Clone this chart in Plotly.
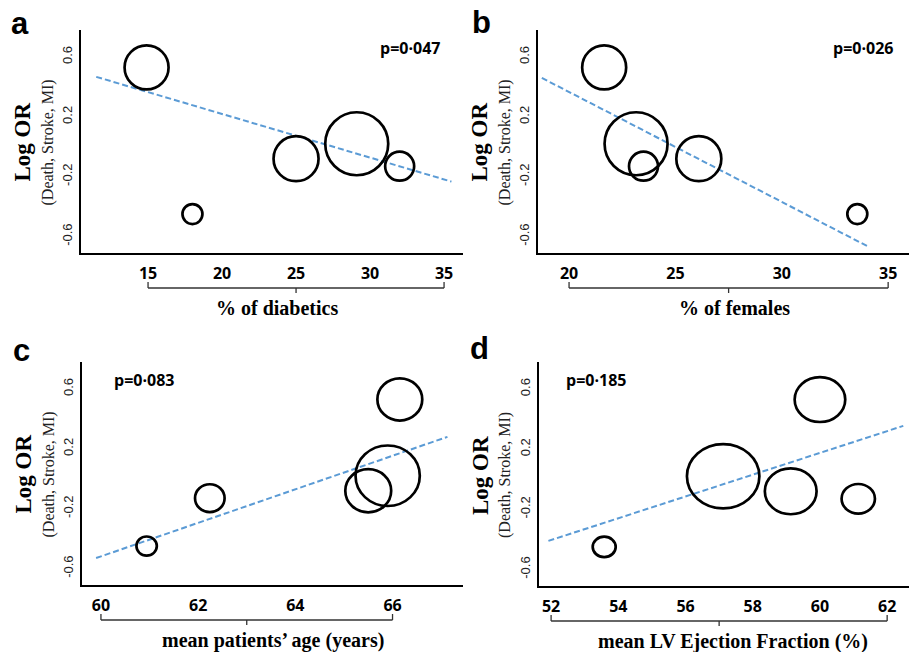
import plotly.graph_objects as go

# ---------------- data ----------------
study_log_or = [0.53, -0.45, -0.08, 0.02, -0.13]      # Log OR per study
study_weight = [44, 20, 45, 63, 29]                    # relative bubble size per study

pct_diabetics = [14.9, 18.0, 25.0, 29.1, 32.0]
pct_females = [21.65, 33.55, 26.1, 23.15, 23.5]
mean_age = [66.15, 60.94, 65.5, 65.9, 62.24]
mean_lvef = [60.0, 53.58, 59.13, 57.12, 61.14]

trend_a_x = [11.5, 35.5]
trend_a_y = [0.467, -0.233]
trend_b_x = [18.72, 34.06]
trend_b_y = [0.46, -0.667]
trend_c_x = [59.9, 67.13]
trend_c_y = [-0.53, 0.28]
trend_d_x = [51.92, 62.48]
trend_d_y = [-0.41, 0.355]

p_values = ["p=0·047", "p=0·026", "p=0·083", "p=0·185"]
panel_letters = ["a", "b", "c", "d"]
x_titles = ["% of diabetics", "% of females", "mean patients’ age (years)",
            "mean LV Ejection Fraction (%)"]
x_ticks_a = [15, 20, 25, 30, 35]
x_ticks_b = [20, 25, 30, 35]
x_ticks_c = [60, 62, 64, 66]
x_ticks_d = [52, 54, 56, 58, 60, 62]
y_ticks = [-0.6, -0.2, 0.2, 0.6]
y_tick_text = ["-0.6", "-0.2", "0.2", "0.6"]

# ---------------- layout helpers ----------------
W, H = 909, 652


def fx(px):
    return px / W


def fy(py):
    return 1 - py / H


panels = [
    dict(x=pct_diabetics, tx=trend_a_x, ty=trend_a_y, ticks=x_ticks_a,
         xr=[10.47, 36.28], dom_x=(81, 463), dom_y=(30, 253),
         letter_pos=(20, 23), p_pos=(410, 48), title_x=277, sx=1.0, sy=1.0),
    dict(x=pct_females, tx=trend_b_x, ty=trend_b_y, ticks=x_ticks_b,
         xr=[18.54, 35.98], dom_x=(538, 909), dom_y=(30, 253),
         letter_pos=(481, 22), p_pos=(863, 48), title_x=734, sx=1.0, sy=1.0),
    dict(x=mean_age, tx=trend_c_x, ty=trend_c_y, ticks=x_ticks_c,
         xr=[59.61, 67.45], dom_x=(82, 463), dom_y=(362, 585),
         letter_pos=(21, 350), p_pos=(144, 380), title_x=273, sx=1.02, sy=0.96),
    dict(x=mean_lvef, tx=trend_d_x, ty=trend_d_y, ticks=x_ticks_d,
         xr=[51.64, 62.65], dom_x=(539, 909), dom_y=(362, 586),
         letter_pos=(480, 348), p_pos=(596, 380), title_x=733, sx=1.15, sy=1.02),
]

fig = go.Figure()
shapes = []
annotations = []
BLUE = "#5b9bd5"
SERIF = "Liberation Serif, Times New Roman, serif"
SANS_B = "Open Sans, Arial, sans-serif"

for i, p in enumerate(panels):
    n = "" if i == 0 else str(i + 1)
    xa, ya = "x" + n, "y" + n
    dom_h = p["dom_y"][1] - p["dom_y"][0]

    fig.add_trace(go.Scatter(
        x=p["tx"], y=p["ty"], mode="lines", xaxis=xa, yaxis=ya,
        line=dict(color=BLUE, width=2, dash="6px,3px"),
        showlegend=False, hoverinfo="skip"))

    # bubbles anchored at the data values
    for xv, yv, w in zip(p["x"], study_log_or, study_weight):
        hw, hh = w * p["sx"] / 2, w * p["sy"] / 2
        shapes.append(dict(
            type="circle", xref=xa, yref=ya,
            xsizemode="pixel", ysizemode="pixel",
            xanchor=xv, yanchor=yv, x0=-hw, x1=hw, y0=-hh, y1=hh,
            line=dict(color="black", width=2.7), fillcolor="rgba(0,0,0,0)"))

    # brace under the x axis spanning first to last tick
    t0, t1 = p["ticks"][0], p["ticks"][-1]
    tm = (t0 + t1) / 2
    yb = -35 / dom_h
    up = 6 / dom_h
    dn = 5 / dom_h
    bl = dict(color="#333333", width=1.3)
    yd = ya + " domain"
    shapes += [
        dict(type="line", xref=xa, yref=yd, x0=t0, x1=t1, y0=yb, y1=yb, line=bl),
        dict(type="line", xref=xa, yref=yd, x0=t0, x1=t0, y0=yb, y1=yb + up, line=bl),
        dict(type="line", xref=xa, yref=yd, x0=t1, x1=t1, y0=yb, y1=yb + up, line=bl),
        dict(type="line", xref=xa, yref=yd, x0=tm, x1=tm, y0=yb, y1=yb - dn, line=bl),
    ]

    fig.update_layout({
        "xaxis" + n: dict(
            domain=[fx(p["dom_x"][0]), fx(p["dom_x"][1])], range=p["xr"],
            anchor=ya, showline=True, linecolor="black", linewidth=2,
            showgrid=False, zeroline=False, ticks="",
            tickvals=p["ticks"], ticktext=[str(t) for t in p["ticks"]],
            tickfont=dict(family=SANS_B, size=16, color="black", weight="bold"),
            ticklabelstandoff=5),
        "yaxis" + n: dict(
            domain=[fy(p["dom_y"][1]), fy(p["dom_y"][0])], range=[-0.71, 0.78],
            anchor=xa, showline=True, linecolor="black", linewidth=2,
            showgrid=False, zeroline=False, ticks="",
            tickvals=y_ticks, ticktext=y_tick_text, tickangle=-90,
            tickfont=dict(family="Liberation Sans, Arial, sans-serif", size=13,
                          color="#222222"),
            ticklabelstandoff=2),
    })

    ymid = fy((p["dom_y"][0] + p["dom_y"][1]) / 2 + 1)
    # y-axis titles
    annotations.append(dict(
        text="<b>Log OR</b>", xref="paper", yref="paper",
        x=fx(p["dom_x"][0] - 59), y=ymid,
        xanchor="center", yanchor="middle", textangle=-90, showarrow=False,
        font=dict(family=SERIF, size=23, color="black")))
    annotations.append(dict(
        text="(Death, Stroke, MI)", xref="paper", yref="paper",
        x=fx(p["dom_x"][0] - 34), y=ymid,
        xanchor="center", yanchor="middle", textangle=-90, showarrow=False,
        font=dict(family=SERIF, size=16, color="#222222")))
    # x-axis title
    annotations.append(dict(
        text="<b>" + x_titles[i] + "</b>", xref="paper", yref="paper",
        x=fx(p["title_x"]), y=fy(p["dom_y"][1] + 55),
        xanchor="center", yanchor="middle",
        showarrow=False, font=dict(family=SERIF, size=20, color="black")))
    # p-value
    annotations.append(dict(
        text="<b>" + p_values[i] + "</b>", xref="paper", yref="paper",
        x=fx(p["p_pos"][0]), y=fy(p["p_pos"][1]), xanchor="center",
        yanchor="middle", showarrow=False,
        font=dict(family=SANS_B, size=16, color="black")))
    # panel letter
    annotations.append(dict(
        text="<b>" + panel_letters[i] + "</b>", xref="paper", yref="paper",
        x=fx(p["letter_pos"][0]), y=fy(p["letter_pos"][1]), xanchor="center",
        yanchor="middle", showarrow=False,
        font=dict(family="Liberation Sans, Arial, sans-serif", size=31,
                  color="black")))

fig.update_layout(
    width=W, height=H, margin=dict(l=0, r=0, t=0, b=0),
    paper_bgcolor="white", plot_bgcolor="white",
    shapes=shapes, annotations=annotations, showlegend=False)

fig.write_html("out.html")
